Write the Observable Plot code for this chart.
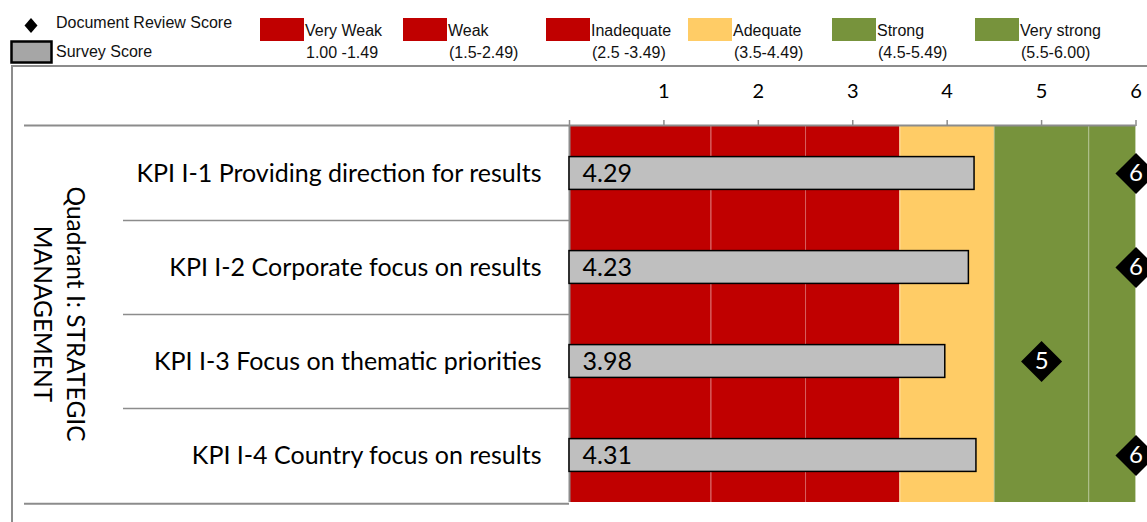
<!DOCTYPE html>
<html><head><meta charset="utf-8">
<script src="https://cdn.jsdelivr.net/npm/d3@7"></script>
<script src="https://cdn.jsdelivr.net/npm/@observablehq/plot@0.6"></script>
<style>
body{margin:0;background:#fff;}
#wrap{position:relative;width:1147px;height:522px;overflow:hidden;background:#fff;}
#legend{position:absolute;left:0;top:0;}
#chart{position:absolute;left:0;top:68px;}
#border{position:absolute;left:11px;top:65px;width:1140px;height:470px;border-left:2px solid #8c8c8c;border-top:2px solid #8c8c8c;}
</style></head><body>
<div id="wrap"><div id="border"></div><div id="legend"></div><div id="chart"></div></div>
<script>
// ---- data ----
const kpis = [
  "KPI I-1 Providing direction for results",
  "KPI I-2 Corporate focus on results",
  "KPI I-3 Focus on thematic priorities",
  "KPI I-4 Country focus on results"
];
const surveyScores = [4.29, 4.23, 3.98, 4.31];
const documentScores = [6, 6, 5, 6];
const bandNames = ["Very Weak", "Weak", "Inadequate", "Adequate", "Strong", "Very strong"];
const bandRanges = ["1.00 -1.49", "(1.5-2.49)", "(2.5 -3.49)", "(3.5-4.49)", "(4.5-5.49)", "(5.5-6.00)"];
const bandStarts = [0, 1.5, 2.5, 3.5, 4.5, 5.5];
const bandEnds = [1.5, 2.5, 3.5, 4.5, 5.5, 6];
const bandColors = ["#C00000", "#C00000", "#C00000", "#FFCC66", "#77933C", "#77933C"];
const xTicks = [0, 1, 2, 3, 4, 5, 6];
const quadrantLabel = "Quadrant I: STRATEGIC\nMANAGEMENT";
const seriesNames = ["Document Review Score", "Survey Score"];

// ---- legend (svg above the chart) ----
const NS = "http://www.w3.org/2000/svg";
const leg = document.createElementNS(NS, "svg");
leg.setAttribute("width", 1147); leg.setAttribute("height", 68);
leg.style.fontFamily = "'Liberation Sans', Arial, sans-serif";
leg.style.fontSize = "16px";
function el(tag, attrs, text) {
  const e = document.createElementNS(NS, tag);
  for (const k in attrs) e.setAttribute(k, attrs[k]);
  if (text != null) e.textContent = text;
  leg.appendChild(e); return e;
}
el("polygon", {points: "31,18 37.5,25.5 31,33 24.5,25.5", fill: "black"});
el("text", {x: 56, y: 28, fill: "#111"}, seriesNames[0]);
el("rect", {x: 11.5, y: 41.5, width: 40, height: 21, fill: "#A6A6A6", stroke: "black", "stroke-width": 2.5});
el("text", {x: 56, y: 57, fill: "#111"}, seriesNames[1]);
const textLefts = [305, 448, 591, 733, 877, 1020];
bandNames.forEach((n, i) => {
  el("rect", {x: textLefts[i] - 45, y: 18, width: 44, height: 23, fill: bandColors[i]});
  el("text", {x: textLefts[i], y: 36, fill: "#111"}, n);
  el("text", {x: textLefts[i] + 1, y: 58, fill: "#111"}, bandRanges[i]);
});
document.getElementById("legend").appendChild(leg);

// ---- chart ----
const rows = kpis.map((k, i) => ({kpi: k, survey: surveyScores[i], doc: documentScores[i]}));
const bands = bandNames.map((n, i) => ({name: n, x1: bandStarts[i], x2: bandEnds[i], color: bandColors[i]}));
const W = 1147, H = 454, mt = 57, mb = 20, ml = 569, mr = 11.5;
const bw = (H - mt - mb) / kpis.length;
const grid = "#8c8c8c";

const chart = Plot.plot({
  width: W, height: H,
  marginLeft: ml, marginRight: mr, marginTop: mt, marginBottom: mb,
  style: {fontFamily: "Lato, 'Open Sans', sans-serif", background: "transparent", color: "black"},
  x: {domain: [0, 6]},
  y: {domain: kpis, padding: 0},
  color: {type: "identity"},
  marks: [
    Plot.rectX(bands, {x1: "x1", x2: "x2", fill: "color"}),
    Plot.ruleX(bandStarts.slice(1), {stroke: "white", strokeOpacity: 0.35, strokeWidth: 1}),
    Plot.ruleX([6], {stroke: "white", strokeOpacity: 0.4, strokeWidth: 1}),
    // table lines
    Plot.ruleY(kpis.slice(1), {y: d => d, dy: -bw / 2, x1: 0, x2: 0, insetLeft: -446, stroke: grid, strokeWidth: 1.5}),
    Plot.ruleY([kpis[0]], {y: d => d, dy: -bw / 2 - 1, x1: 0, x2: 6, insetLeft: -545, stroke: grid, strokeWidth: 2}),
    Plot.ruleY([kpis[kpis.length - 1]], {y: d => d, dy: bw / 2 + 1, x1: 0, x2: 0, insetLeft: -545, stroke: grid, strokeWidth: 2}),
    Plot.ruleX([0], {stroke: grid, strokeWidth: 2}),
    // survey bars
    Plot.barX(rows, {x: "survey", y: "kpi", fill: "#BFBFBF", stroke: "black", strokeWidth: 1.5, insetTop: 30.6, insetBottom: 30.6}),
    Plot.text(rows, {x: 0, y: "kpi", text: d => d.survey.toFixed(2), textAnchor: "start", dx: 13, fontSize: 25, fill: "black"}),
    // document review diamonds
    Plot.dot(rows, {x: "doc", y: "kpi", symbol: "diamond2", r: 18.5, fill: "black", stroke: null}),
    Plot.text(rows, {x: "doc", y: "kpi", text: d => String(d.doc), fill: "white", fontSize: 24}),
    // axes
    Plot.axisX({anchor: "top", ticks: xTicks, tickSize: 6, tickPadding: 22, tickFormat: d => d === 0 ? "" : String(d), fontSize: 20, fill: "black", stroke: grid, strokeWidth: 1.5, label: null}),
    Plot.axisY({tickSize: 0, tickPadding: 28, fontSize: 25, fill: "black", label: null}),
    Plot.text([quadrantLabel], {text: d => d, frameAnchor: "left", dx: -508, rotate: 90, fontSize: 24.5, lineHeight: 1.36, textAnchor: "middle", fill: "black"})
  ]
});
document.getElementById("chart").appendChild(chart);
</script>
</body></html>
